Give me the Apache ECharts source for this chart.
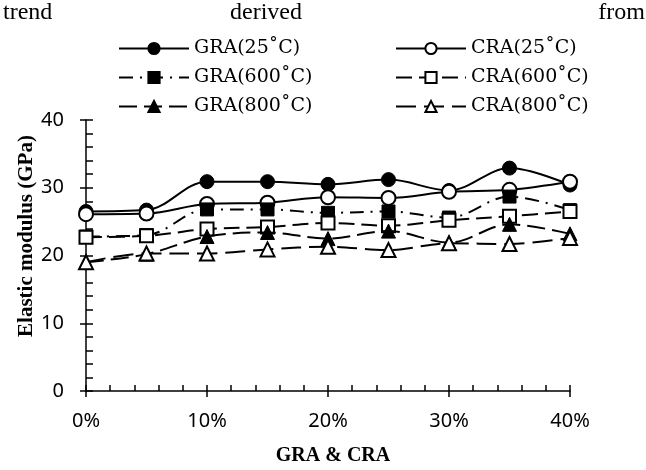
<!DOCTYPE html>
<html><head><meta charset="utf-8">
<script src="https://cdn.jsdelivr.net/npm/echarts@6/dist/echarts.min.js"></script>
<style>html,body{margin:0;padding:0;background:#fff}#c{width:646px;height:470px}</style>
</head><body><div id="c"></div>
<script>
const xValues = [0, 5, 10, 15, 20, 25, 30, 35, 40];
const gra25  = [26.5, 26.7, 30.9, 30.9, 30.5, 31.2, 29.6, 32.9, 30.4];
const cra25  = [26.1, 26.2, 27.6, 27.8, 28.6, 28.5, 29.4, 29.7, 30.9];
const gra600 = [22.8, 23.0, 26.8, 26.8, 26.3, 26.5, 25.6, 28.7, 26.7];
const cra600 = [22.7, 22.9, 23.9, 24.2, 24.8, 24.4, 25.2, 25.8, 26.5];
const gra800 = [19.0, 20.2, 22.8, 23.4, 22.5, 23.6, 21.9, 24.6, 23.2];
const cra800 = [19.0, 20.3, 20.3, 20.9, 21.3, 20.8, 21.8, 21.7, 22.6];
const seriesNames = ['GRA(25˚C)', 'CRA(25˚C)', 'GRA(600˚C)', 'CRA(600˚C)', 'GRA(800˚C)', 'CRA(800˚C)'];
const xTickLabels = ['0%', '10%', '20%', '30%', '40%'];
const yTickLabels = ['0', '10', '20', '30', '40'];

const allData = [gra25, cra25, gra600, cra600, gra800, cra800];
const symbols = ['circle', 'circle', 'rect', 'rect', 'triangle', 'triangle'];
const filled = [true, false, true, false, true, false];
const dashes = ['solid', 'solid', [14, 7, 2, 7], [16, 7], [18, 7], [20, 8]];

const series = allData.map((arr, i) => ({
  name: seriesNames[i],
  type: 'line',
  smooth: 0.35,
  data: xValues.map((x, j) => [x, arr[j]]),
  symbol: symbols[i],
  symbolSize: symbols[i] === 'rect' ? 13 : 14,
  lineStyle: { color: '#000', width: 2, type: dashes[i] },
  itemStyle: filled[i] ? { color: '#000', borderColor: '#000', borderWidth: 1 } : { color: '#fff', borderColor: '#000', borderWidth: 2 },
  z: 2 + i
}));

const legendText = { fontFamily: 'DejaVu Serif', fontSize: 19, color: '#000' };
const axisFont = { fontFamily: 'Noto Sans', fontSize: 20, color: '#000' };

const chart = echarts.init(document.getElementById('c'), null, { renderer: 'canvas' });
chart.setOption({
  animation: false,
  backgroundColor: '#fff',
  grid: { left: 86, right: 76, top: 120, bottom: 79, containLabel: false },
  legend: [
    { data: [seriesNames[0], seriesNames[2], seriesNames[4]], orient: 'vertical', left: 118, top: 39, itemWidth: 70, itemHeight: 14, itemGap: 10, textStyle: legendText, padding: 0 },
    { data: [seriesNames[1], seriesNames[3], seriesNames[5]], orient: 'vertical', left: 395, top: 39, itemWidth: 70, itemHeight: 14, itemGap: 10, textStyle: legendText, padding: 0 }
  ],
  xAxis: [
    { type: 'value', min: 0, max: 40, interval: 10, position: 'bottom',
      axisLine: { lineStyle: { color: '#000', width: 1.5 } },
      axisTick: { inside: true, length: 6, lineStyle: { color: '#000', width: 1.5 } },
      minorTick: { show: true, splitNumber: 5, length: 6, lineStyle: { color: '#000', width: 1.5 } },
      splitLine: { show: false },
      axisLabel: Object.assign({ margin: 20, formatter: v => xTickLabels[Math.round(v / 10)] }, axisFont) },
    { type: 'value', min: 0, max: 40, interval: 10, position: 'bottom',
      axisLine: { show: false }, axisLabel: { show: false }, splitLine: { show: false },
      axisTick: { inside: false, length: 6, lineStyle: { color: '#000', width: 1.5 } } }
  ],
  yAxis: [
    { type: 'value', min: 0, max: 40, interval: 10, position: 'left',
      axisLine: { show: true, lineStyle: { color: '#000', width: 1.5 } },
      axisTick: { show: true, inside: true, length: 7, lineStyle: { color: '#000', width: 1.5 } },
      minorTick: { show: true, splitNumber: 5, length: 7, lineStyle: { color: '#000', width: 1.5 } },
      splitLine: { show: false },
      axisLabel: Object.assign({ margin: 22, formatter: v => yTickLabels[Math.round(v / 10)] }, axisFont) },
    { type: 'value', min: 0, max: 40, interval: 10, position: 'left',
      axisLine: { show: false }, axisLabel: { show: false }, splitLine: { show: false },
      axisTick: { show: true, inside: false, length: 6, lineStyle: { color: '#000', width: 1.5 } } }
  ],
  series: series,
  graphic: [
    { type: 'text', left: 3, top: 1, style: { text: 'trend', fontFamily: 'Liberation Serif', fontSize: 24, fill: '#000' } },
    { type: 'text', left: 230, top: 1, style: { text: 'derived', fontFamily: 'Liberation Serif', fontSize: 24, fill: '#000' } },
    { type: 'text', right: 1, top: 1, style: { text: 'from', fontFamily: 'Liberation Serif', fontSize: 24, fill: '#000' } },
    { type: 'text', x: 27, y: 236, rotation: Math.PI / 2, style: { text: 'Elastic modulus (GPa)', fontFamily: 'Liberation Serif', fontWeight: 'bold', fontSize: 21, fill: '#000', align: 'center', verticalAlign: 'middle' } },
    { type: 'text', x: 333, y: 456, style: { text: 'GRA & CRA', fontFamily: 'Liberation Serif', fontWeight: 'bold', fontSize: 20, fill: '#000', align: 'center', verticalAlign: 'middle' } }
  ]
});
</script></body></html>
